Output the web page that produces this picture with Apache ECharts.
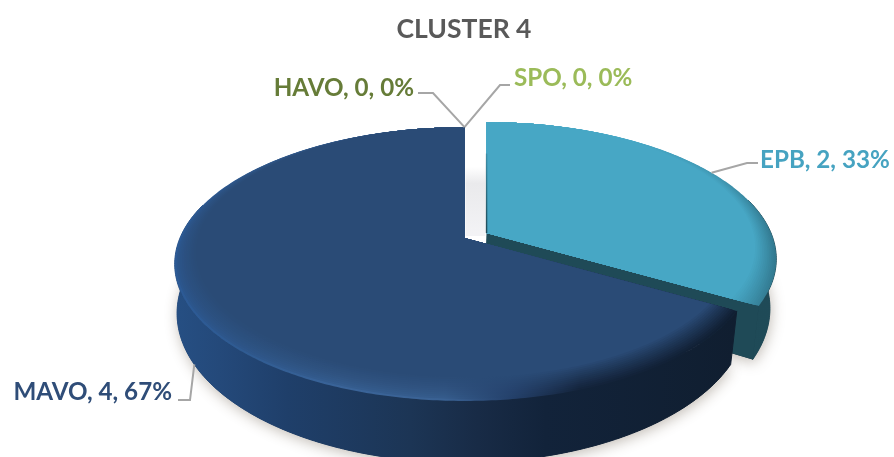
<!DOCTYPE html>
<html>
<head>
<meta charset="utf-8">
<style>html,body{margin:0;padding:0;background:#fff;overflow:hidden}#c{width:894px;height:457px}</style>
<script src="https://cdn.jsdelivr.net/npm/echarts@6/dist/echarts.min.js"></script>
</head>
<body>
<div id="c"></div>
<script>
// ---- data ----
const chartTitle = 'CLUSTER 4';
const categories = ['EPB', 'MAVO', 'HAVO', 'SPO'];
const values = [2, 4, 0, 0];

// ---- styling / layout ----
const labelColors = ['#46A3C1', '#2F4D78', '#667C38', '#9BBB59'];
const faceColors = ['#47A7C5', '#2A4B76'];
const sideStops = [
  [[0, '#1F4E5B'], [1, '#1F4A57']],
  [[0, '#264F83'], [0.08, '#24497A'], [0.2, '#1F3F6A'], [0.42, '#1C3555'], [0.54, '#182B46'], [0.66, '#12233A'], [1, '#101E30']]
];
const rimStops = [
  [[0, '#47A7C5'], [0.5, '#47A7C5'], [0.8, '#3F96B1'], [1, '#32798F']],
  [[0, '#2C5A96'], [0.12, '#2F5B92'], [0.3, '#3A6499'], [0.48, '#3A6294'], [0.6, '#24406A'], [0.72, '#14243C'], [1, '#101F33']]
];
const explode = [[22, -5], [0, 0], [0, 0], [0, 0]];
// label anchor: where the text starts, its alignment and the leader's elbow points
const labelLayout = [
  { x: 760, y: 160, align: 'left',  elbow: [[747, 163], [758, 163]], onBottom: false },
  { x: 172, y: 392, align: 'right', elbow: [[190, 400], [178, 400]], onBottom: true },
  { x: 414, y: 88,  align: 'right', elbow: [[433, 93], [418, 93]], onBottom: false },
  { x: 514, y: 78,  align: 'left',  elbow: [[500, 85], [510, 85]], onBottom: false }
];
// perspective projection of the pie disc
const CX = 464.5, CY = 238, RX = 284.5, RY = 132, PERSP = -0.19;
const BOTTOM = { dx: -2, dy: 47, sx: 0.985, sy: 1.09 };
const LABEL_FONT = 24.2;
// the part of the disc's outer wall that faces the viewer
const WALL_FROM = 75 * Math.PI / 180, WALL_TO = 285 * Math.PI / 180;

const total = values.reduce((a, b) => a + b, 0);

function hex(c) { return [1, 3, 5].map(i => parseInt(c.substr(i, 2), 16)); }
function mix(a, b, t) {
  const A = hex(a), B = hex(b);
  return 'rgb(' + A.map((v, i) => Math.round(v + (B[i] - v) * t)).join(',') + ')';
}
function project(theta, rho, offset, bottom) {
  const u = rho * Math.sin(theta), v = -rho * Math.cos(theta), w = 1 + PERSP * v;
  if (bottom) {
    return [
      CX + BOTTOM.dx + offset[0] + RX * BOTTOM.sx * u / w,
      CY + BOTTOM.dy + offset[1] + RY * BOTTOM.sy * v / w
    ];
  }
  return [CX + offset[0] + RX * u / w, CY + offset[1] + RY * v / w];
}
function arc(a0, a1, rhoFn, offset, bottom) {
  const n = Math.max(2, Math.ceil(Math.abs(a1 - a0) / 0.012));
  const pts = [];
  for (let i = 0; i <= n; i++) {
    const t = a0 + (a1 - a0) * i / n;
    pts.push(project(t, rhoFn(t), offset, bottom));
  }
  return pts;
}
function innerRho(r) {
  const k = 1 - r;
  return t => { const c = Math.cos(t); return k * c + Math.sqrt(k * k * c * c - (1 - 2 * r)); };
}
const unit = () => 1;

function grad(x0, x1, stops) {
  return new echarts.graphic.LinearGradient(x0, 0, x1, 0,
    stops.map(s => ({ offset: s[0], color: s[1] })), true);
}

function renderItem(params, api) {
  const i = params.dataIndex;
  const value = api.value(0);
  let before = 0;
  for (let k = 0; k < i; k++) before += values[k];
  const a0 = before / total * Math.PI * 2;
  const a1 = (before + value) / total * Math.PI * 2;
  const mid = (a0 + a1) / 2;
  const off = explode[i];
  const children = [];

  if (value > 0) {
    const top = arc(a0, a1, unit, off, false);
    const w0 = Math.max(a0, WALL_FROM), w1 = Math.min(a1, WALL_TO);
    const wallTop = arc(w0, w1, unit, off, false);
    const bot = arc(w0, w1, unit, off, true);
    const apexT = project(0, 0, off, false), apexB = project(0, 0, off, true);
    const xs = top.map(p => p[0]);
    const x0 = Math.min.apply(null, xs), x1 = Math.max.apply(null, xs);
    const si = i === 0 ? 0 : 1;

    // soft ground shadow under the slice
    children.push({ type: 'polygon', shape: { points: [apexB].concat(bot) }, silent: true,
      style: { fill: '#1a2a3a', shadowBlur: 14, shadowColor: 'rgba(80,65,45,0.36)', shadowOffsetX: 1, shadowOffsetY: 3 } });
    // outer wall (stroked so no seam shows against the top face)
    const wallFill = grad(x0, x1, sideStops[si]);
    children.push({ type: 'polygon', shape: { points: wallTop.concat(bot.slice().reverse()) }, silent: true,
      style: { fill: wallFill, stroke: wallFill, lineWidth: 1 } });
    // cut walls (only the exploded slice shows one)
    if (i === 0) {
      children.push({ type: 'polygon', silent: true,
        shape: { points: [apexT, top[top.length - 1], bot[bot.length - 1], apexB] },
        style: { fill: '#1F4A57' } });
    }
    // top face with blurred bevel built from nested bands
    children.push({ type: 'polygon', shape: { points: [apexT].concat(top) }, silent: true,
      style: { fill: grad(x0, x1, rimStops[si]) } });
    const bands = 12;
    for (let b = 1; b <= bands; b++) {
      const t = b / bands;
      const rho = innerRho(1 - 0.06 * t);
      children.push({ type: 'polygon', silent: true,
        shape: { points: [apexT].concat(arc(a0, a1, rho, off, false)) },
        style: { fill: grad(x0, x1, rimStops[si].map(s => [s[0], mix(s[1], faceColors[si], Math.pow(t, s[0] > 0.55 ? 1.1 : 0.5))])) } });
    }
    if (i === 0) {
      // faint dark edge and shadow next to the gap
      const e0 = project(a0, 0.68, off, false);
      children.push({ type: 'line', silent: true,
        shape: { x1: e0[0], y1: e0[1], x2: apexT[0], y2: apexT[1] },
        style: { lineWidth: 1.6, stroke: new echarts.graphic.LinearGradient(0, e0[1], 0, apexT[1],
          [{ offset: 0, color: 'rgba(31,74,87,0.25)' }, { offset: 1, color: 'rgba(31,74,87,1)' }], true) } });
      const g0 = project(0, 0.6, [0, 0], false);
      children.push({ type: 'rect', silent: true,
        shape: { x: g0[0] + 1, y: g0[1], width: off[0] - 2, height: apexT[1] - g0[1] + 3 },
        style: { fill: new echarts.graphic.LinearGradient(0, g0[1], 0, apexT[1],
          [{ offset: 0, color: 'rgba(225,225,228,0)' }, { offset: 0.25, color: 'rgba(225,225,228,0.7)' }, { offset: 1, color: 'rgba(240,240,243,0.8)' }], true) } });
    }
  }

  // leader + label
  const lay = labelLayout[i];
  const anchor = project(mid, 1, off, lay.onBottom);
  children.push({ type: 'polyline', silent: true, z2: 20,
    shape: { points: [anchor].concat(lay.elbow) },
    style: { fill: 'none', stroke: '#A6A6A6', lineWidth: 2 } });
  const pct = Math.round(value / total * 100);
  children.push({ type: 'text', silent: true, z2: 21, x: lay.x, y: lay.y,
    style: {
      text: categories[i] + ', ' + value + ', ' + pct + '%',
      fill: labelColors[i], font: 'bold ' + LABEL_FONT + 'px Lato',
      textAlign: lay.align, textVerticalAlign: 'middle'
    } });
  return { type: 'group', children };
}

const chart = echarts.init(document.getElementById('c'), null, { renderer: 'canvas' });
chart.setOption({
  animation: false,
  backgroundColor: '#ffffff',
  title: {
    text: chartTitle, left: 459, top: 11, textAlign: 'center',
    textStyle: { color: '#595959', fontFamily: 'Lato', fontWeight: 'bold', fontSize: 26.5 }
  },
  series: [{
    type: 'custom',
    coordinateSystem: 'none',
    data: values.map((v, i) => ({ name: categories[i], value: [v] })),
    renderItem
  }]
});
</script>
</body>
</html>
